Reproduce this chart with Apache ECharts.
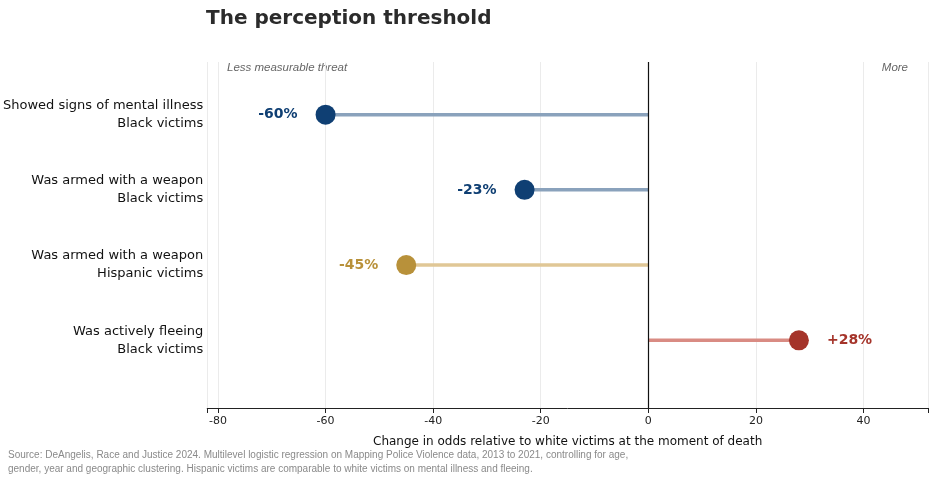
<!DOCTYPE html>
<html><head><meta charset="utf-8">
<script src="https://cdn.jsdelivr.net/npm/echarts@6/dist/echarts.min.js"></script>
<style>html,body{margin:0;padding:0;background:#fff}#c{width:936px;height:480px}</style>
</head><body><div id="c"></div>
<script>
var categories = ['Showed signs of mental illness\nBlack victims', 'Was armed with a weapon\nBlack victims', 'Was armed with a weapon\nHispanic victims', 'Was actively fleeing\nBlack victims'];
var values = [-60, -23, -45, 28];
var dotColors = ['#0f3f73', '#0f3f73', '#b8913a', '#a5342a'];
var stemColors = ['#8aa2bc', '#8aa2bc', '#e0c796', '#d98b83'];
var xTicks = [-80, -60, -40, -20, 0, 20, 40];

var myChart = echarts.init(document.getElementById('c'));
var series = [];
for (var i = 0; i < values.length; i++) {
	series.push({
		type: 'line', data: [[0, i], [values[i], i]], symbol: 'none', silent: true,
		lineStyle: { color: stemColors[i], width: 3.5 }, z: 2
	});
}
series.push({
	type: 'scatter', symbolSize: 20, z: 5,
	data: values.map(function(v, i) {
		return {
			value: [v, i], itemStyle: { color: dotColors[i], opacity: 1 },
			label: {
				show: true, position: v < 0 ? 'left' : 'right', distance: 18,
				formatter: (v > 0 ? '+' : '') + v + '%', color: dotColors[i], fontSize: 14, fontWeight: 'bold'
			}
		};
	}),
	markLine: {
		silent: true, symbol: 'none', label: { show: false },
		lineStyle: { color: '#111', width: 1.2, type: 'solid' },
		data: [{ xAxis: 0 }]
	}
});

myChart.setOption({
	animation: false,
	textStyle: { fontFamily: 'DejaVu Sans' },
	title: { text: 'The perception threshold', left: 201, top: 4, textStyle: { fontSize: 20, fontWeight: 'bold', color: '#2b2b2b' } },
	grid: { left: 206, right: 8, top: 62, bottom: 72 },
	xAxis: {
		type: 'value', min: -82, max: 52, splitNumber: 6,
		name: 'Change in odds relative to white victims at the moment of death',
		nameLocation: 'middle', nameGap: 28, nameTextStyle: { fontSize: 12, color: '#111' },
		axisLine: { show: true, onZero: false, lineStyle: { color: '#222' } },
		axisTick: { show: true, lineStyle: { color: '#222' } },
		axisLabel: { color: '#222', fontSize: 11, customValues: xTicks },
		splitLine: { show: true, lineStyle: { color: '#ebebeb' } }
	},
	yAxis: {
		type: 'value', inverse: true, min: -0.7, max: 3.9,
		axisLine: { show: false }, axisTick: { show: false }, splitLine: { show: false },
		axisLabel: {
			customValues: [0, 1, 2, 3], margin: 4, color: '#111', fontSize: 13, lineHeight: 18, align: 'right',
			formatter: function(v) { return categories[Math.round(v)]; }
		}
	},
	graphic: [
		{ type: 'text', left: 227, top: 62, style: { text: 'Less measurable threat', fontSize: 11.5, fontStyle: 'italic', fill: '#666' } },
		{ type: 'text', right: 28, top: 62, style: { text: 'More', fontSize: 11.5, fontStyle: 'italic', fill: '#666' } },
		{ type: 'text', left: 8, top: 448, style: { text: 'Source: DeAngelis, Race and Justice 2024. Multilevel logistic regression on Mapping Police Violence data, 2013 to 2021, controlling for age,\ngender, year and geographic clustering. Hispanic victims are comparable to white victims on mental illness and fleeing.', fontSize: 10, lineHeight: 14, fill: '#8a8a8a' } }
	],
	series: series
});
</script></body></html>
